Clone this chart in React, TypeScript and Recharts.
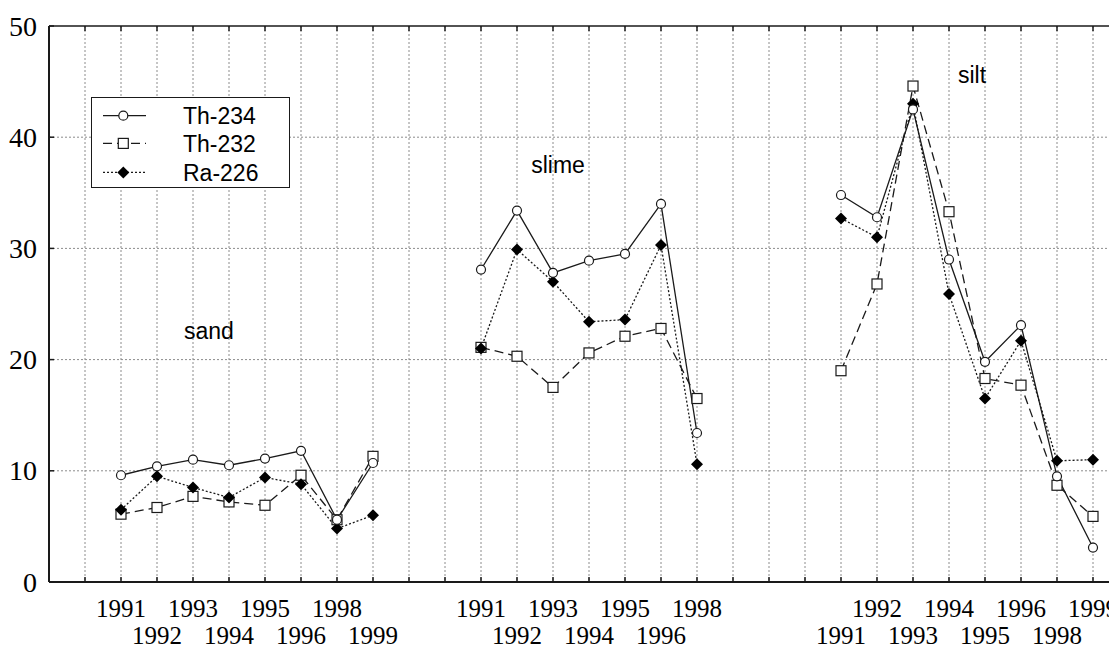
import React from 'react';
import { LineChart, Line, XAxis, YAxis, CartesianGrid, ReferenceDot, ReferenceLine } from 'recharts';

// sample groups and the years measured in each
const groups = ['sand', 'slime', 'silt'];
const sandYears = ['1991', '1992', '1993', '1994', '1995', '1996', '1998', '1999'];
const slimeYears = ['1991', '1992', '1993', '1994', '1995', '1996', '1998'];
const siltYears = ['1991', '1992', '1993', '1994', '1995', '1996', '1998', '1999'];

const sandTh234 = [9.6, 10.4, 11.0, 10.5, 11.1, 11.8, 5.6, 10.7];
const sandTh232 = [6.1, 6.7, 7.7, 7.2, 6.9, 9.6, 5.6, 11.3];
const sandRa226 = [6.5, 9.5, 8.5, 7.6, 9.4, 8.8, 4.8, 6.0];

const slimeTh234 = [28.1, 33.4, 27.8, 28.9, 29.5, 34.0, 13.4];
const slimeTh232 = [21.1, 20.3, 17.5, 20.6, 22.1, 22.8, 16.5];
const slimeRa226 = [21.0, 29.9, 27.0, 23.4, 23.6, 30.3, 10.6];

const siltTh234 = [34.8, 32.8, 42.5, 29.0, 19.8, 23.1, 9.5, 3.1];
const siltTh232 = [19.0, 26.8, 44.6, 33.3, 18.3, 17.7, 8.7, 5.9];
const siltRa226 = [32.7, 31.0, 43.0, 25.9, 16.5, 21.7, 10.9, 11.0];

const yTicks = [0, 10, 20, 30, 40, 50];

// x slot where each group starts, and which label row its first year goes on
const groupStart = [2, 12, 22];
const firstRow = [0, 0, 1];

const W = 1109;
const H = 642;
const TOP = 18;
const LEFT = 41;
const BOTTOM = 68;
const X_MAX = (W - LEFT) / 36;

const groupYears = [sandYears, slimeYears, siltYears];
const groupSeries = [
  [sandTh234, sandTh232, sandRa226],
  [slimeTh234, slimeTh232, slimeRa226],
  [siltTh234, siltTh232, siltRa226],
];

type Pt = { x: number; th234: number | null; th232: number | null; ra226: number | null };
const data: Pt[] = [];
const tickLabels = new Map<number, { text: string; row: number }>();
groupYears.forEach((years, g) => {
  if (g > 0) data.push({ x: groupStart[g] - 1.5, th234: null, th232: null, ra226: null });
  years.forEach((yr, i) => {
    const x = groupStart[g] + i;
    data.push({
      x,
      th234: groupSeries[g][0][i],
      th232: groupSeries[g][1][i],
      ra226: groupSeries[g][2][i],
    });
    tickLabels.set(x, { text: yr, row: (firstRow[g] + i) % 2 });
  });
});

const xTicks: number[] = [];
for (let k = 1; k < X_MAX; k++) xTicks.push(k);

// where the group names sit (data coordinates, text baseline)
const groupLabelPos = [
  { x: 4.44, y: 21.85 },
  { x: 14.14, y: 36.8 },
  { x: 25.64, y: 44.87 },
];

const serif = '"Liberation Serif", "Times New Roman", serif';
const sans = '"Liberation Sans", Arial, sans-serif';
const ink = '#1a1a1a';

const XTick = (props: any) => {
  const { x, y, payload } = props;
  const lab = tickLabels.get(payload.value);
  return (
    <g>
      <line x1={x} x2={x} y1={y} y2={y - 5} stroke={ink} strokeWidth={1.5} />
      <line x1={x} x2={x} y1={TOP} y2={TOP + 5} stroke={ink} strokeWidth={1.5} />
      {lab && (
        <text x={x} y={y + (lab.row ? 62 : 35)} textAnchor="middle" fontFamily={serif} fontSize={25} fill="#000">
          {lab.text}
        </text>
      )}
    </g>
  );
};

const YTick = (props: any) => {
  const { x, y, payload } = props;
  return (
    <g>
      <line x1={x} x2={x + 5} y1={y} y2={y} stroke={ink} strokeWidth={1.5} />
      <text x={x - 12} y={y} dy="0.34em" textAnchor="end" fontFamily={serif} fontSize={28} fill="#000">
        {payload.value}
      </text>
    </g>
  );
};

const Circle = (p: any) =>
  p.cx == null || p.value == null ? <g /> : <circle cx={p.cx} cy={p.cy} r={4.5} fill="#fff" stroke={ink} strokeWidth={1.2} />;
const Square = (p: any) =>
  p.cx == null || p.value == null ? <g /> : <rect x={p.cx - 5} y={p.cy - 5} width={10} height={10} fill="#fff" stroke={ink} strokeWidth={1.2} />;
const Diamond = (p: any) =>
  p.cx == null || p.value == null ? (
    <g />
  ) : (
    <path d={`M${p.cx},${p.cy - 6}L${p.cx + 6},${p.cy}L${p.cx},${p.cy + 6}L${p.cx - 6},${p.cy}Z`} fill="#000" />
  );

const legendItems = [
  { name: 'Th-234', dash: undefined, marker: Circle },
  { name: 'Th-232', dash: '9 5', marker: Square },
  { name: 'Ra-226', dash: '2 2', marker: Diamond },
];

function LegendBox() {
  const rows = [17.7, 45.4, 74.4];
  return (
    <svg
      width={199}
      height={91}
      style={{ position: 'absolute', left: 82.7, top: 89.3, background: '#fff', border: `1.5px solid ${ink}`, boxSizing: 'border-box' }}
    >
      {legendItems.map((it, i) => {
        const M = it.marker;
        return (
          <g key={it.name}>
            <line x1={11} x2={54} y1={rows[i]} y2={rows[i]} stroke={ink} strokeWidth={1.3} strokeDasharray={it.dash} />
            <M cx={31.3} cy={rows[i]} value={1} />
            <text x={91} y={rows[i]} dy="0.36em" fontFamily={sans} fontSize={23} fill="#000">
              {it.name}
            </text>
          </g>
        );
      })}
    </svg>
  );
}

export default function App() {
  return (
    <div style={{ position: 'relative', width: W, height: H }}>
      <LineChart width={W} height={H} data={data} margin={{ top: TOP, right: 0, bottom: 0, left: 0 }}>
        <CartesianGrid
          stroke="#8c8c8c"
          strokeDasharray="2 2"
          horizontalValues={[10, 20, 30, 40]}
        />
        <XAxis
          type="number"
          dataKey="x"
          domain={[0, X_MAX]}
          ticks={xTicks}
          interval={0}
          allowDataOverflow
          height={BOTTOM}
          tickSize={0}
          tickMargin={0}
          tickLine={false}
          axisLine={{ stroke: ink, strokeWidth: 2 }}
          tick={<XTick />}
        />
        <YAxis
          type="number"
          domain={[0, 50]}
          ticks={yTicks}
          interval={0}
          width={LEFT}
          tickSize={0}
          tickMargin={0}
          tickLine={false}
          axisLine={{ stroke: ink, strokeWidth: 2 }}
          tick={<YTick />}
        />
        <ReferenceLine y={50} stroke={ink} strokeWidth={1.5} />
        <Line
          dataKey="th232"
          stroke={ink}
          strokeWidth={1.3}
          strokeDasharray="9 5"
          dot={<Square />}
          activeDot={false}
          isAnimationActive={false}
        />
        <Line
          dataKey="ra226"
          stroke={ink}
          strokeWidth={1.3}
          strokeDasharray="2 2"
          dot={<Diamond />}
          activeDot={false}
          isAnimationActive={false}
        />
        <Line
          dataKey="th234"
          stroke={ink}
          strokeWidth={1.3}
          dot={<Circle />}
          activeDot={false}
          isAnimationActive={false}
        />
        {groups.map((gname, g) => (
          <ReferenceDot
            key={gname}
            x={groupLabelPos[g].x}
            y={groupLabelPos[g].y}
            r={0}
            shape={(p: any) => (
              <text x={p.cx} y={p.cy} textAnchor="middle" fontFamily={sans} fontSize={23} fill="#000">
                {gname}
              </text>
            )}
          />
        ))}
      </LineChart>
      <LegendBox />
    </div>
  );
}
